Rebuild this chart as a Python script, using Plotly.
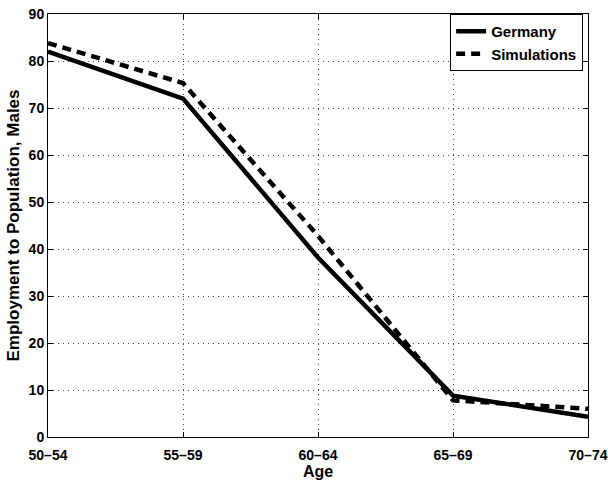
import plotly.graph_objects as go

ages = ["50-54", "55-59", "60-64", "65-69", "70-74"]
age_labels = ["50\u201354", "55\u201359", "60\u201364", "65\u201369", "70\u201374"]
germany = [82, 72, 38.2, 8.8, 4.3]
simulations = [83.8, 75.3, 42.8, 7.8, 6.0]
y_ticks = [0, 10, 20, 30, 40, 50, 60, 70, 80, 90]

FONT = "Liberation Sans"

fig = go.Figure()
fig.add_trace(go.Scatter(x=list(range(len(ages))), y=germany, mode="lines", name="Germany",
                         line=dict(color="black", width=4.5, dash="solid")))
fig.add_trace(go.Scatter(x=list(range(len(ages))), y=simulations, mode="lines", name="Simulations",
                         line=dict(color="black", width=4.5, dash="9px,6px")))

fig.update_layout(
    width=608, height=482,
    margin=dict(l=48, r=20, t=14, b=45),
    paper_bgcolor="white", plot_bgcolor="white",
    font=dict(family=FONT, size=14, color="black", weight="bold"),
    showlegend=True,
    legend=dict(x=0.991, y=1.0, xanchor="right", yanchor="top",
                bordercolor="black", borderwidth=1, bgcolor="white",
                font=dict(family=FONT, size=15, color="black", weight="bold"),
                tracegroupgap=0, itemwidth=30),
)
fig.update_xaxes(
    range=[0, len(ages) - 1], automargin=False,
    tickmode="array", tickvals=list(range(len(ages))), ticktext=age_labels,
    showline=True, linecolor="black", linewidth=1, mirror="ticks",
    ticks="inside", ticklen=5, tickcolor="black",
    showgrid=True, gridcolor="#444", griddash="1px,4px", gridwidth=1,
    zeroline=False, ticklabelstandoff=5,
    title=dict(text="Age", standoff=3, font=dict(size=16, weight="bold")),
    tickfont=dict(size=14, weight="bold"),
)
fig.update_yaxes(
    range=[0, 90], automargin=False,
    tickmode="array", tickvals=y_ticks,
    showline=True, linecolor="black", linewidth=1, mirror="ticks",
    ticks="inside", ticklen=5, tickcolor="black",
    showgrid=True, gridcolor="#444", griddash="1px,4px", gridwidth=1,
    zeroline=False,
    title=dict(text="Employment to Population, Males", standoff=4, font=dict(size=17, weight="bold")),
    tickfont=dict(size=14, weight="bold"),
)

fig.write_html("out.html")
